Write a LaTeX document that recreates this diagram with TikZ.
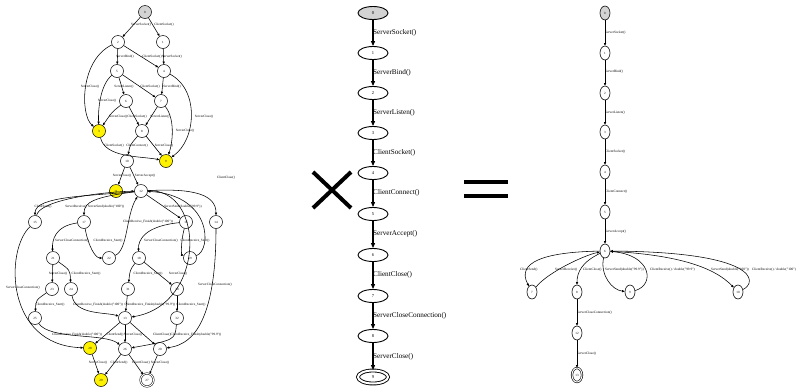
\documentclass[tikz,border=0pt]{standalone}
\usepackage{fontspec}
\setmainfont{Liberation Serif}
\usetikzlibrary{arrows.meta,shapes.geometric}
\definecolor{initgray}{RGB}{211,211,211}
\tikzset{
  lst/.style={circle, draw, line width=0.5pt, minimum size=13pt, inner sep=0pt, font=\fontsize{3.2}{3.2}\selectfont},
  lacc/.style={lst, fill=yellow},
  larr/.style={-{Triangle[length=2.6pt,width=2.2pt]}, line width=0.55pt},
  llab/.style={font=\fontsize{3.3}{4}\selectfont, inner sep=0pt},
  mst/.style={ellipse, draw, line width=0.9pt, minimum width=30pt, minimum height=13pt, inner sep=0pt, font=\fontsize{4.5}{5}\selectfont},
  marr/.style={-{Triangle[length=5pt,width=4pt]}, line width=1.1pt},
  mlab/.style={font=\fontsize{7.2}{8}\selectfont, inner sep=0pt, anchor=west},
  rst/.style={ellipse, draw, line width=0.6pt, minimum width=10pt, minimum height=14pt, inner sep=0pt, font=\fontsize{3.2}{3.2}\selectfont},
  rarr/.style={-{Triangle[length=2.6pt,width=2.2pt]}, line width=0.55pt},
  rlab/.style={font=\fontsize{3.4}{4}\selectfont, inner sep=0pt, anchor=west},
  fin/.style={double, double distance=1pt},
  opsign/.style={line width=4pt},
}

\begin{document}
\begin{tikzpicture}[x=1pt,y=-1pt]
  \useasboundingbox (0,0) rectangle (806,389);

  % left: interleaved product
  \node[lst,fill=initgray](L0) at (145,12) {0};
  \node[lst](L2) at (118,42) {2};
  \node[lst](L1) at (163,42) {1};
  \node[lst](L5) at (117,71) {5};
  \node[lst](L4) at (164,71) {4};
  \node[lst](L6) at (126,101) {6};
  \node[lst](L7) at (161,101) {7};
  \node[lacc](L3) at (99,131) {3};
  \node[lst](L8) at (142,131) {8};
  \node[lst](L10) at (127,161) {10};
  \node[lacc](L9) at (166,161) {9};
  \node[lacc](L11) at (116,191) {11};
  \node[lst](L12) at (141,191) {12};
  \node[lst](L15) at (35,222) {15};
  \node[lst](L17) at (84,222) {17};
  \node[lst](L16) at (186,222) {16};
  \node[lst](L14) at (216,222) {14};
  \node[lst](L21) at (53,258) {21};
  \node[lst](L22) at (109,258) {22};
  \node[lst](L18) at (139,258) {18};
  \node[lst](L19) at (190,258) {19};
  \node[lst](L23) at (52,289) {23};
  \node[lst](L24) at (71,289) {24};
  \node[lst](L31) at (128,289) {31};
  \node[lst](L30) at (177,289) {30};
  \node[lst](L25) at (35,318) {25};
  \node[lst](L13) at (125,318) {13};
  \node[lst](L32) at (177,318) {32};
  \node[lacc](L28) at (90,348) {28};
  \node[lst](L26) at (125,349) {26};
  \node[lst](L20) at (160,349) {20};
  \node[lacc](L29) at (101,380) {29};
  \node[lst,fin](L27) at (147,380) {27};

  \draw[larr](L0)--(L2);\draw[larr](L0)--(L1);
  \draw[larr](L2)--(L5);\draw[larr](L2)--(L4);\draw[larr](L1)--(L4);
  \draw[larr](L2) .. controls (80,60) and (80,115) .. (L3);
  \draw[larr](L5) .. controls (100,85) and (98,110) .. (L3);
  \draw[larr](L5)--(L6);\draw[larr](L5)--(L7);\draw[larr](L4)--(L7);
  \draw[larr](L4) .. controls (200,90) and (196,140) .. (L9);
  \draw[larr](L6) .. controls (112,112) .. (L3);
  \draw[larr](L6)--(L8);\draw[larr](L7)--(L8);
  \draw[larr](L7) .. controls (176,120) and (172,145) .. (L9);
  \draw[larr](L3) .. controls (105,158) and (140,156) .. (L9);
  \draw[larr](L8) .. controls (130,145) .. (L10);
  \draw[larr](L8)--(L9);
  \draw[larr](L10)--(L11);\draw[larr](L10)--(L12);

  \draw[larr](L12) .. controls (90,196) and (35,196) .. (L15);
  \draw[larr](L15) .. controls (40,200) and (100,192) .. (L12);
  \draw[larr](L12) .. controls (95,197) and (84,202) .. (L17);
  \draw[larr](L12)--(L16);
  \draw[larr](L12) .. controls (195,188) and (216,195) .. (L14);
  \draw[larr](L19) .. controls (212,250) and (212,195) .. (L12);
  \draw[larr](L22) .. controls (128,250) and (126,215) .. (L12);
  \draw[larr](L12) .. controls (206,188) and (206,305) .. (L13);
  \draw[larr](L15) .. controls (5,250) and (5,345) .. (L28);
  \draw[larr](L17) .. controls (55,226) and (52,240) .. (L21);
  \draw[larr](L17) .. controls (88,245) and (95,258) .. (L22);
  \draw[larr](L16) .. controls (145,226) and (138,240) .. (L18);
  \draw[larr](L16) .. controls (180,245) and (182,255) .. (L19);
  \draw[larr](L14) .. controls (216,335) and (185,345) .. (L20);
  \draw[larr](L21)--(L23);\draw[larr](L21) .. controls (70,270) .. (L24);
  \draw[larr](L18) .. controls (130,270) .. (L31);\draw[larr](L18)--(L30);
  \draw[larr](L23) .. controls (36,300) .. (L25);
  \draw[larr](L24) .. controls (75,315) and (105,312) .. (L13);
  \draw[larr](L31)--(L13);\draw[larr](L30)--(L32);
  \draw[larr](L25) .. controls (50,340) and (105,333) .. (L26);
  \draw[larr](L13)--(L28);\draw[larr](L13)--(L26);\draw[larr](L13)--(L20);
  \draw[larr](L32) .. controls (175,340) .. (L26);
  \draw[larr](L28)--(L29);\draw[larr](L26)--(L29);
  \draw[larr](L26)--(L27);\draw[larr](L20)--(L27);

  \node[llab] at (141,25) {ServerSocket()};
  \node[llab] at (164,25) {ClientSocket()};
  \node[llab] at (125,57) {ServerBind()};
  \node[llab] at (152,57) {ClientSocket()};
  \node[llab] at (172,57) {ServerSocket()};
  \node[llab] at (90,87) {ServerClose()};
  \node[llab] at (124,87) {ServerListen()};
  \node[llab] at (150,87) {ClientSocket()};
  \node[llab] at (172,87) {ServerBind()};
  \node[llab] at (107,101) {ServerClose()};
  \node[llab] at (118,117) {ServerClose()};
  \node[llab] at (137,117) {ClientSocket()};
  \node[llab] at (160,117) {ServerListen()};
  \node[llab] at (204,117) {ServerClose()};
  \node[llab] at (185,131) {ServerClose()};
  \node[llab] at (114,146) {ClientSocket()};
  \node[llab] at (137,146) {ClientConnect()};
  \node[llab] at (164,146) {ServerClose()};
  \node[llab] at (122,176) {ServerClose()};
  \node[llab] at (145,176) {ServerAccept()};
  \node[llab] at (43,207) {ClientSend()};
  \node[llab] at (76,207) {ServerReceive()};
  \node[llab] at (106,207) {ServerSend(double("100"))};
  \node[llab] at (183,207) {ServerSend(double("99.9"))};
  \node[llab] at (226,178) {ClientClose()};
  \node[llab] at (148,222) {ClientReceive\_Finish(double("100"))};
  \node[llab] at (72,241) {ServerCloseConnection()};
  \node[llab] at (108,241) {ClientReceive\_Start()};
  \node[llab] at (161,241) {ServerCloseConnection()};
  \node[llab] at (195,241) {ClientReceive\_Start()};
  \node[llab] at (215,285) {ServerCloseConnection()};
  \node[llab] at (58,274) {ServerClose()};
  \node[llab] at (86,274) {ClientReceive\_Start()};
  \node[llab] at (148,274) {ClientReceive\_Start()};
  \node[llab] at (178,274) {ServerClose()};
  \node[llab] at (23,288) {ServerCloseConnection()};
  \node[llab] at (50,305) {ClientReceive\_Start()};
  \node[llab] at (98,305) {ClientReceive\_Finish(double("100"))};
  \node[llab] at (150,305) {ClientReceive\_Finish(double("99.9"))};
  \node[llab] at (191,305) {ClientReceive\_Start()};
  \node[llab] at (77,335) {ClientReceive\_Finish(double("100"))};
  \node[llab] at (115,335) {ClientSend()};
  \node[llab] at (133,335) {ServerClose()};
  \node[llab] at (162,335) {ClientClose()};
  \node[llab] at (196,335) {ClientReceive\_Finish(double("99.9"))};
  \node[llab] at (98,363) {ServerClose()};
  \node[llab] at (119,363) {ClientSend()};
  \node[llab] at (141,363) {ClientClose()};
  \node[llab] at (160,363) {ServerClose()};

  % operators
  \draw[opsign](313,172)--(351,208) (351,172)--(313,208);
  \draw[opsign](464,182)--(508,182) (464,196)--(508,196);

  % middle: sequence
  \node[mst,fill=initgray](M0) at (373,13) {0};
  \node[mst](M1) at (373,53) {1};
  \node[mst](M2) at (373,93) {2};
  \node[mst](M3) at (373,133) {3};
  \node[mst](M4) at (373,173) {4};
  \node[mst](M5) at (373,214) {5};
  \node[mst](M6) at (373,255) {6};
  \node[mst](M7) at (373,296) {7};
  \node[mst](M8) at (373,336) {8};
  \node[mst,fin,double distance=2pt](M9) at (373,377) {9};
  \draw[marr](M0)--(M1);\draw[marr](M1)--(M2);\draw[marr](M2)--(M3);
  \draw[marr](M3)--(M4);\draw[marr](M4)--(M5);\draw[marr](M5)--(M6);
  \draw[marr](M6)--(M7);\draw[marr](M7)--(M8);\draw[marr](M8)--(M9);
  \node[mlab] at (373,33) {ServerSocket()};
  \node[mlab] at (373,73) {ServerBind()};
  \node[mlab] at (373,113) {ServerListen()};
  \node[mlab] at (373,153) {ClientSocket()};
  \node[mlab] at (373,193) {ClientConnect()};
  \node[mlab] at (373,234) {ServerAccept()};
  \node[mlab] at (373,275) {ClientClose()};
  \node[mlab] at (373,316) {ServerCloseConnection()};
  \node[mlab] at (373,357) {ServerClose()};

  % right: result
  \node[rst,fill=initgray](R0) at (605,13) {0};
  \node[rst](R1) at (605,53) {1};
  \node[rst](R2) at (605,93) {2};
  \node[rst](R3) at (605,132) {3};
  \node[rst](R4) at (605,172) {4};
  \node[rst](R5) at (605,212) {5};
  \node[rst](R6) at (605,251) {6};
  \node[rst](R7) at (532,292) {7};
  \node[rst](R8) at (577,292) {8};
  \node[rst](R9) at (630,292) {9};
  \node[rst](R10) at (738,292) {10};
  \node[rst](R12) at (577,333) {12};
  \node[rst,fin](R13) at (577,375) {13};
  \draw[rarr](R0)--(R1);\draw[rarr](R1)--(R2);\draw[rarr](R2)--(R3);
  \draw[rarr](R3)--(R4);\draw[rarr](R4)--(R5);\draw[rarr](R5)--(R6);
  \draw[rarr](R6) .. controls (545,252) and (516,262) .. (R7);
  \draw[rarr](R7) .. controls (548,272) and (585,255) .. (R6);
  \draw[rarr](R6) .. controls (582,262) and (577,272) .. (R8);
  \draw[rarr](R6) .. controls (600,275) and (612,290) .. (R9);
  \draw[rarr](R9) .. controls (655,285) and (652,255) .. (R6);
  \draw[rarr](R6) .. controls (680,255) and (715,268) .. (R10);
  \draw[rarr](R10) .. controls (758,282) and (758,252) .. (R6);
  \draw[rarr](R8)--(R12);\draw[rarr](R12)--(R13);
  \node[rlab] at (605,33) {ServerSocket()};
  \node[rlab] at (605,72) {ServerBind()};
  \node[rlab] at (605,113) {ServerListen()};
  \node[rlab] at (605,152) {ClientSocket()};
  \node[rlab] at (605,192) {ClientConnect()};
  \node[rlab] at (605,232) {ServerAccept()};
  \node[rlab] at (520,270) {ClientSend()};
  \node[rlab] at (555,270) {ServerReceive()};
  \node[rlab] at (583,270) {ClientClose()};
  \node[rlab] at (605,270) {ServerSend(double("99.9"))};
  \node[rlab] at (650,270) {ClientReceive() / double("99.9")};
  \node[rlab] at (711,270) {ServerSend(double("100"))};
  \node[rlab] at (752,270) {ClientReceive() / double("100")};
  \node[rlab] at (577,313) {ServerCloseConnection()};
  \node[rlab] at (577,354) {ServerClose()};
\end{tikzpicture}
\end{document}
